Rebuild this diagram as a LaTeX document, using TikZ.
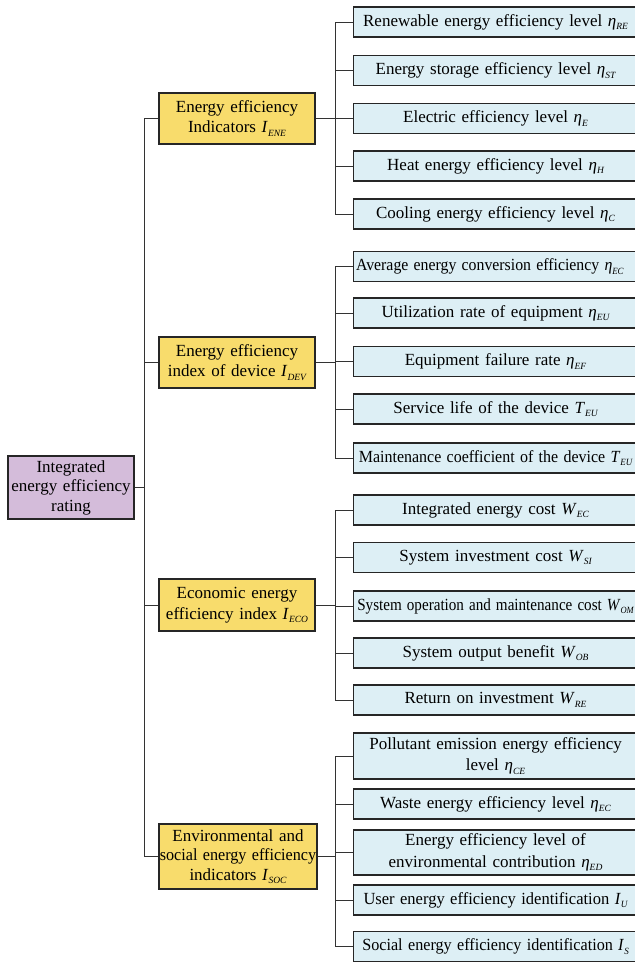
\documentclass[tikz,border=0pt]{standalone}
\usepackage{fontspec}
\setmainfont{Liberation Serif}
\usetikzlibrary{calc}
\definecolor{rootfill}{HTML}{D4BCDA}
\definecolor{catfill}{HTML}{F8DC6C}
\definecolor{leaffill}{HTML}{DDEFF5}
\definecolor{linec}{HTML}{333333}
\newcommand{\sbs}[1]{\raisebox{-0.45ex}{\fontsize{9.5}{9.5}\selectfont\itshape #1}}
\newcommand{\myeta}{\textit{η}}
\newcommand{\myI}{\textit{I}}
\newcommand{\myT}{\textit{T}}
\newcommand{\myW}{\textit{W}}
\begin{document}
\begin{tikzpicture}[x=1pt,y=-1pt,
  every node/.style={font=\fontsize{17}{20.5}\selectfont},
  base/.style={draw=black!85, line width=1.1pt, align=center, inner sep=1pt},
  rootbox/.style={base, fill=rootfill, minimum width=126pt, minimum height=63pt, text width=124pt, font=\fontsize{17}{19.5}\selectfont},
  catbox/.style={base, fill=catfill, minimum width=156pt, text width=154pt},
  leafbox/.style={base, fill=leaffill, anchor=west, minimum width=284pt, text width=280pt},
  conn/.style={draw=linec, line width=1pt}
]
\useasboundingbox (0,0) rectangle (635,962);
\fill[white] (0,0) rectangle (635,962);

\node[rootbox] (root) at (71,487.5) {Integrated\\energy efficiency\\rating};

\node[catbox, minimum height=51pt] (c1) at (237,118.5) {Energy efficiency\\Indicators \myI\sbs{ENE}};
\node[catbox, minimum height=51pt] (c2) at (237,362.5) {Energy efficiency\\index of device \myI\sbs{DEV}};
\node[catbox, minimum height=52pt] (c3) at (237,605) {Economic energy\\efficiency index \myI\sbs{ECO}};
\node[catbox, minimum height=65pt, minimum width=158pt, text width=158pt, inner sep=0pt, font=\fontsize{17}{19.5}\selectfont] (c4) at (238,856.5) {Environmental and\\\scalebox{0.95}[1]{social energy efficiency}\\indicators \myI\sbs{SOC}};

\coordinate (tX) at (144,0);
\coordinate (bX) at (335,0);

% group 1
\node[leafbox, minimum height=30pt] (l11) at (353,22) {Renewable energy efficiency level \myeta\sbs{RE}};
\node[leafbox, minimum height=30pt] (l12) at (353,70.5) {Energy storage efficiency level \myeta\sbs{ST}};
\node[leafbox, minimum height=30pt] (l13) at (353,118.5) {Electric efficiency level \myeta\sbs{E}};
\node[leafbox, minimum height=30pt] (l14) at (353,166) {Heat energy efficiency level \myeta\sbs{H}};
\node[leafbox, minimum height=30pt] (l15) at (353,214) {Cooling energy efficiency level \myeta\sbs{C}};
% group 2
\node[leafbox, minimum height=30pt] (l21) at (353,266.5) {\makebox[280pt][l]{\hspace*{0.5pt}\scalebox{0.93}[1]{Average energy conversion efficiency \myeta\sbs{EC}}}};
\node[leafbox, minimum height=30pt] (l22) at (353,313) {Utilization rate of equipment \myeta\sbs{EU}};
\node[leafbox, minimum height=30pt] (l23) at (353,361.5) {Equipment failure rate \myeta\sbs{EF}};
\node[leafbox, minimum height=30pt] (l24) at (353,409) {Service life of the device \myT\sbs{EU}};
\node[leafbox, minimum height=30pt] (l25) at (353,458) {\scalebox{0.94}[1]{Maintenance coefficient of the device \myT\sbs{EU}}};
% group 3
\node[leafbox, minimum height=30pt] (l31) at (353,510) {Integrated energy cost \myW\sbs{EC}};
\node[leafbox, minimum height=30pt] (l32) at (353,557.5) {System investment cost \myW\sbs{SI}};
\node[leafbox, minimum height=30pt] (l33) at (353,606) {\scalebox{0.89}[1]{System operation and maintenance cost \myW\sbs{OM}}};
\node[leafbox, minimum height=30pt] (l34) at (353,653) {System output benefit \myW\sbs{OB}};
\node[leafbox, minimum height=30pt] (l35) at (353,700) {Return on investment \myW\sbs{RE}};
% group 4
\node[leafbox, minimum height=46pt] (l41) at (353,756) {Pollutant emission energy efficiency\\[1pt]level \myeta\sbs{CE}};
\node[leafbox, minimum height=30pt] (l42) at (353,804) {Waste energy efficiency level \myeta\sbs{EC}};
\node[leafbox, minimum height=45pt] (l43) at (353,852.5) {Energy efficiency level of\\[1pt]environmental contribution \myeta\sbs{ED}};
\node[leafbox, minimum height=30pt] (l44) at (353,900) {\scalebox{0.97}[1]{User energy efficiency identification \myI\sbs{U}}};
\node[leafbox, minimum height=30pt] (l45) at (353,946.5) {\scalebox{0.95}[1]{Social energy efficiency identification \myI\sbs{S}}};

% trunk
\draw[conn] (root.east) -- (root.east -| tX);
\draw[conn] (c1.west -| tX) -- (c4.west -| tX);
\foreach \c in {c1,c2,c3,c4} {
  \draw[conn] (\c.west -| tX) -- (\c.west);
  \draw[conn] (\c.east) -- (\c.east -| bX);
}
\foreach \g in {1,2,3,4} {
  \draw[conn] (l\g1.west -| bX) -- (l\g5.west -| bX);
  \foreach \k in {1,...,5} {
    \draw[conn] (l\g\k.west -| bX) -- (l\g\k.west);
  }
}
\end{tikzpicture}
\end{document}
